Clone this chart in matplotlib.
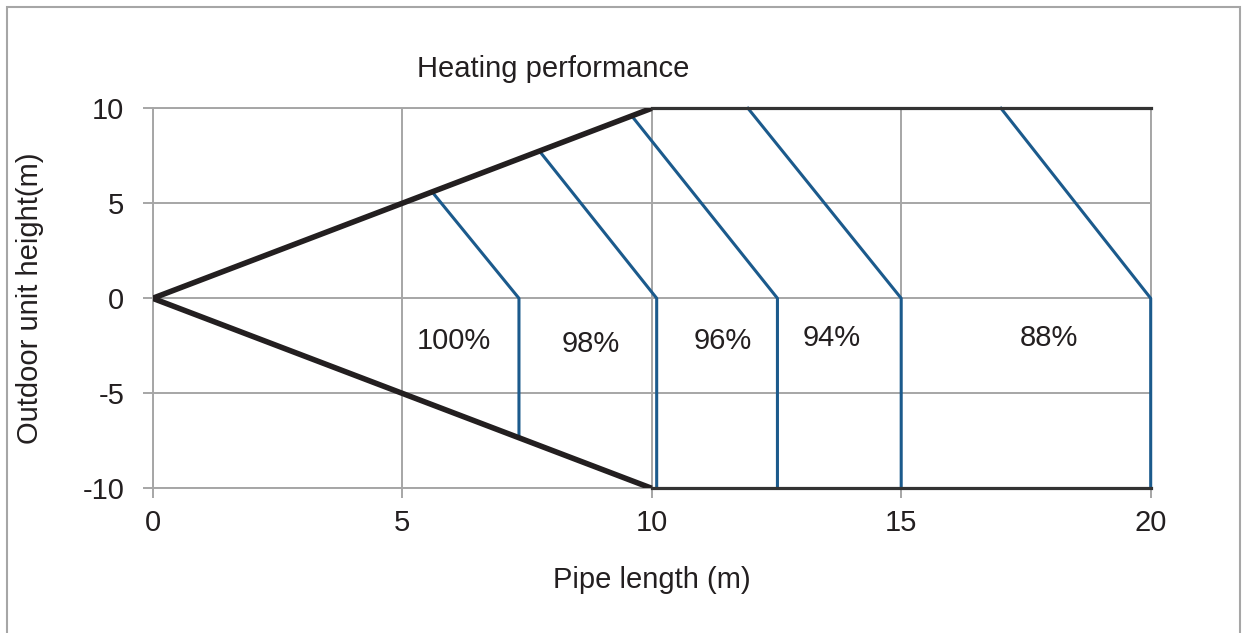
import numpy as np
import matplotlib.pyplot as plt
from matplotlib.patches import Rectangle

plt.rcParams['font.family'] = ['Liberation Sans', 'DejaVu Sans']
plt.rcParams['axes.unicode_minus'] = False

# boundary of the allowed region (pipe length, height)
upper_x = [0, 10]
upper_y = [0, 10]
lower_x = [0, 10]
lower_y = [0, -10]
cap_x = [10, 20]
cap_top = [10, 10]
cap_bot = [-10, -10]

# performance limit lines: slanted part from the top, then vertical down
top_x = [5.6, 7.75, 9.6, 11.93, 17.0]
top_y = [5.6, 7.75, 9.6, 10.0, 10.0]
base_x = [7.34, 10.1, 12.52, 15.0, 20.0]
bottom_y = [-7.34, -10.0, -10.0, -10.0, -10.0]

labels = ['100%', '98%', '96%', '94%', '88%']
label_x = [6.04, 8.78, 11.43, 13.61, 17.96]
label_y = [-2.68, -2.81, -2.67, -2.51, -2.51]

xticks = [0, 5, 10, 15, 20]
yticks = [-10, -5, 0, 5, 10]

grid_c = '#a6a6a6'
blue = '#1b5a8c'
dark = '#231f20'

fig = plt.figure(figsize=(12.47, 6.33), dpi=100)
ax = fig.add_axes([0.12245, 0.22859, 0.80032, 0.60032])

ax.set_xlim(0, 20)
ax.set_ylim(-10, 10)
ax.set_xticks(xticks)
ax.set_yticks(yticks)
ax.grid(True, color=grid_c, lw=1.4)
ax.set_axisbelow(True)
for s in ax.spines.values():
    s.set_color(grid_c)
    s.set_linewidth(1.4)
ax.tick_params(direction='out', length=7, width=1.4, color=grid_c,
               labelsize=21, labelcolor=dark)
ax.tick_params(axis='y', pad=13.5)
ax.tick_params(axis='x', pad=8)

ax.plot(upper_x, upper_y, color=dark, lw=4, solid_capstyle='butt', zorder=4)
ax.plot(lower_x, lower_y, color=dark, lw=4, solid_capstyle='butt', zorder=4)
ax.plot(cap_x, cap_top, color='#333333', lw=2.3, zorder=4, clip_on=False)
ax.plot(cap_x, cap_bot, color='#333333', lw=2.3, zorder=4, clip_on=False)

for i in range(len(labels)):
    ax.plot([top_x[i], base_x[i], base_x[i]], [top_y[i], 0, bottom_y[i]],
            color=blue, lw=2.2, zorder=3, clip_on=False)
    ax.text(label_x[i], label_y[i], labels[i], ha='center', va='baseline',
            fontsize=21, color=dark)

ax.set_xlabel('Pipe length (m)', fontsize=21, color=dark, va='baseline')
ax.xaxis.set_label_coords(0.5, (488.3 - 588) / 380)
ax.set_ylabel('Outdoor unit height(m)', fontsize=21, color=dark, va='center')
ax.yaxis.set_label_coords(-0.1229, 0.5)

fig.text(553 / 1247, 1 - 76.7 / 633, 'Heating performance', ha='center',
         va='baseline', fontsize=21, color=dark)

fig.patches.append(Rectangle((7 / 1247, -0.1), (1240 - 7) / 1247, 1.1 - 7 / 633,
                             transform=fig.transFigure, fill=False,
                             ec=grid_c, lw=1.5))

plt.savefig('out.png', dpi=100)
